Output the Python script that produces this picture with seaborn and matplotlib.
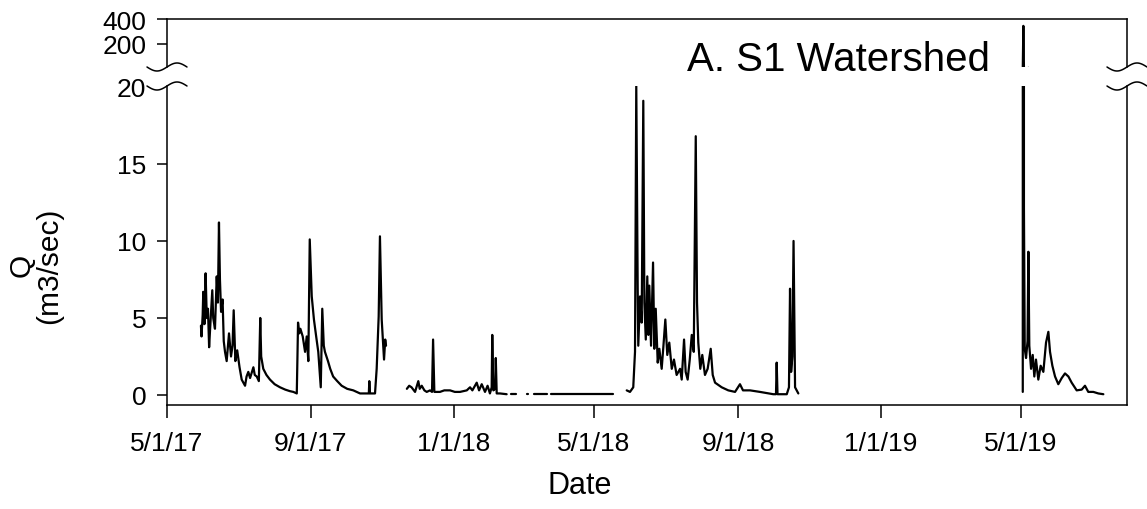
import numpy as np
import pandas as pd
import matplotlib
matplotlib.use("Agg")
import matplotlib.pyplot as plt
from matplotlib.lines import Line2D
import seaborn as sns

# ---------------- data ----------------
seg1_dates = ["2017-05-30 00:00", "2017-05-30 12:00", "2017-05-31 12:00", "2017-06-01 00:00", "2017-06-02 00:00",
              "2017-06-03 00:00", "2017-06-04 00:00", "2017-06-05 00:00", "2017-06-06 00:00", "2017-06-07 00:00",
              "2017-06-08 17:00", "2017-06-09 12:00", "2017-06-11 00:00", "2017-06-12 12:00", "2017-06-13 12:00",
              "2017-06-14 10:00", "2017-06-15 06:00", "2017-06-16 05:00", "2017-06-17 12:00", "2017-06-18 12:00",
              "2017-06-19 14:00", "2017-06-21 00:00", "2017-06-23 00:00", "2017-06-24 17:00", "2017-06-26 00:00",
              "2017-06-27 00:00", "2017-06-28 10:00", "2017-06-30 00:00", "2017-07-02 00:00", "2017-07-03 20:00",
              "2017-07-06 17:00", "2017-07-08 00:00", "2017-07-09 12:00", "2017-07-11 00:00", "2017-07-13 20:00",
              "2017-07-15 00:00", "2017-07-16 17:00", "2017-07-18 12:00", "2017-07-19 17:00", "2017-07-20 12:00",
              "2017-07-22 07:00", "2017-07-25 00:00", "2017-07-28 00:00", "2017-08-01 00:00", "2017-08-05 14:00",
              "2017-08-10 00:00", "2017-08-14 00:00", "2017-08-17 00:00", "2017-08-19 22:00", "2017-08-20 12:00",
              "2017-08-21 00:00", "2017-08-22 00:00", "2017-08-23 00:00", "2017-08-25 00:00", "2017-08-27 00:00",
              "2017-08-28 10:00", "2017-08-29 19:00", "2017-08-31 00:00", "2017-09-01 17:00", "2017-09-03 14:00",
              "2017-09-05 12:00", "2017-09-07 07:00", "2017-09-09 10:00", "2017-09-10 17:00", "2017-09-12 00:00",
              "2017-09-13 00:00", "2017-09-15 14:00", "2017-09-17 12:00", "2017-09-20 00:00", "2017-09-23 12:00",
              "2017-09-27 07:00", "2017-10-02 00:00", "2017-10-07 05:00", "2017-10-13 00:00", "2017-10-20 12:00",
              "2017-10-20 22:00", "2017-10-21 12:00", "2017-10-25 19:00", "2017-10-27 05:00", "2017-10-28 22:00",
              "2017-10-30 00:00", "2017-10-31 12:00", "2017-11-02 12:00", "2017-11-03 12:00", "2017-11-04 05:00"]
seg1_q = [4.5, 3.8, 5.2, 6.7, 4.6, 7.9, 5.0, 5.6, 3.1, 4.5,
          6.8, 5.0, 4.3, 7.7, 6.0, 11.2, 7.5, 5.4, 6.2, 3.5,
          2.8, 2.2, 4.0, 2.5, 3.2, 5.5, 2.2, 2.9, 1.8, 1.0,
          0.6, 1.2, 1.5, 1.1, 1.8, 1.3, 1.2, 0.9, 5.0, 2.5,
          1.7, 1.3, 1.0, 0.7, 0.5, 0.35, 0.25, 0.2, 0.1, 2.5,
          4.7, 4.0, 4.3, 3.8, 2.8, 3.8, 2.2, 10.1, 6.4, 4.9,
          3.8, 2.8, 0.5, 5.6, 3.2, 2.8, 2.2, 1.7, 1.2, 0.9,
          0.6, 0.4, 0.3, 0.1, 0.1, 0.9, 0.1, 0.1, 1.7, 5.1,
          10.3, 4.9, 2.3, 3.6, 3.2]

seg2_dates = ["2017-11-22 00:00", "2017-11-24 00:00", "2017-11-26 00:00", "2017-11-29 00:00", "2017-12-01 19:00",
              "2017-12-03 00:00", "2017-12-04 17:00", "2017-12-07 00:00", "2017-12-09 00:00", "2017-12-11 19:00",
              "2017-12-13 12:00", "2017-12-14 10:00", "2017-12-15 12:00", "2017-12-20 07:00", "2017-12-24 00:00",
              "2017-12-28 22:00", "2018-01-02 00:00", "2018-01-06 10:00", "2018-01-12 05:00", "2018-01-15 00:00",
              "2018-01-17 00:00", "2018-01-20 17:00", "2018-01-22 17:00", "2018-01-25 00:00", "2018-01-27 19:00",
              "2018-01-30 00:00", "2018-02-01 00:00", "2018-02-02 12:00", "2018-02-03 00:00", "2018-02-03 22:00",
              "2018-02-05 12:00", "2018-02-06 00:00", "2018-02-06 19:00", "2018-02-09 14:00", "2018-02-15 07:00"]
seg2_q = [0.4, 0.6, 0.5, 0.2, 0.9, 0.4, 0.6, 0.3, 0.2, 0.3,
          0.2, 3.6, 0.2, 0.2, 0.3, 0.3, 0.2, 0.2, 0.3, 0.5,
          0.3, 0.8, 0.3, 0.7, 0.2, 0.6, 0.1, 0.5, 3.9, 0.3,
          0.4, 2.4, 0.1, 0.1, 0.05]

seg3_dates = ["2018-02-19 00:00", "2018-02-23 00:00"]
seg3_q = [0.05, 0.05]
seg4_dates = ["2018-03-04 12:00", "2018-03-05 12:00"]
seg4_q = [0.05, 0.05]
seg5_dates = ["2018-03-11 00:00", "2018-03-22 00:00"]
seg5_q = [0.05, 0.05]
seg6_dates = ["2018-03-25 00:00", "2018-05-17 00:00"]
seg6_q = [0.05, 0.05]

seg7_dates = ["2018-05-28 22:00", "2018-05-31 17:00", "2018-06-03 12:00", "2018-06-05 00:00", "2018-06-06 02:00",
              "2018-06-07 07:00", "2018-06-07 19:00", "2018-06-09 07:00", "2018-06-10 17:00", "2018-06-12 02:00",
              "2018-06-13 00:00", "2018-06-14 05:00", "2018-06-15 12:00", "2018-06-16 10:00", "2018-06-17 05:00",
              "2018-06-18 17:00", "2018-06-20 10:00", "2018-06-21 12:00", "2018-06-22 17:00", "2018-06-24 10:00",
              "2018-06-25 19:00", "2018-06-27 19:00", "2018-06-29 05:00", "2018-06-30 22:00", "2018-07-02 14:00",
              "2018-07-04 07:00", "2018-07-06 10:00", "2018-07-08 07:00", "2018-07-10 14:00", "2018-07-13 12:00",
              "2018-07-14 22:00", "2018-07-16 22:00", "2018-07-18 07:00", "2018-07-20 00:00", "2018-07-21 19:00",
              "2018-07-23 12:00", "2018-07-25 05:00", "2018-07-26 22:00", "2018-07-28 00:00", "2018-07-29 02:00",
              "2018-07-30 19:00", "2018-08-01 12:00", "2018-08-03 19:00", "2018-08-06 02:00", "2018-08-08 17:00",
              "2018-08-10 10:00", "2018-08-12 10:00", "2018-08-18 02:00", "2018-08-23 17:00", "2018-08-29 12:00",
              "2018-09-02 17:00", "2018-09-05 07:00", "2018-09-11 07:00", "2018-09-19 19:00", "2018-10-01 05:00",
              "2018-10-03 12:00", "2018-10-04 02:00", "2018-10-04 19:00", "2018-10-12 17:00", "2018-10-14 14:00",
              "2018-10-15 12:00", "2018-10-16 10:00", "2018-10-17 12:00", "2018-10-18 12:00", "2018-10-19 19:00",
              "2018-10-22 14:00"]
seg7_q = [0.3, 0.2, 0.5, 2.8, 20.1, 6.9, 3.2, 6.4, 4.7, 19.1,
          6.0, 3.6, 7.7, 3.9, 7.1, 3.2, 8.6, 3.0, 5.6, 2.1,
          3.0, 1.7, 3.1, 4.9, 2.6, 3.4, 1.7, 2.3, 1.3, 1.7,
          1.0, 3.6, 1.5, 1.0, 2.3, 3.9, 2.8, 16.8, 6.0, 3.4,
          1.7, 2.6, 1.3, 1.7, 3.0, 1.3, 0.8, 0.5, 0.3, 0.2,
          0.7, 0.3, 0.3, 0.2, 0.05, 0.05, 2.1, 0.05, 0.05, 0.5,
          6.9, 1.5, 2.5, 10.0, 0.5, 0.1]

seg8_dates = ["2019-05-02 10:00", "2019-05-02 22:00", "2019-05-03 10:00", "2019-05-04 02:00", "2019-05-05 05:00",
              "2019-05-06 12:00", "2019-05-07 05:00", "2019-05-08 00:00", "2019-05-09 12:00", "2019-05-10 22:00",
              "2019-05-12 07:00", "2019-05-13 17:00", "2019-05-15 17:00", "2019-05-17 17:00", "2019-05-20 00:00",
              "2019-05-22 07:00", "2019-05-24 07:00", "2019-05-25 17:00", "2019-05-27 17:00", "2019-05-30 00:00",
              "2019-06-01 19:00", "2019-06-04 17:00", "2019-06-07 12:00", "2019-06-10 10:00", "2019-06-13 05:00",
              "2019-06-17 12:00", "2019-06-21 19:00", "2019-06-24 14:00", "2019-06-27 10:00", "2019-07-01 17:00",
              "2019-07-06 00:00", "2019-07-10 07:00"]
seg8_q = [0.2, 345, 12.1, 3.0, 2.4, 3.5, 9.3, 3.2, 1.7, 2.6,
          1.2, 2.3, 1.0, 1.9, 1.5, 3.4, 4.1, 2.8, 1.9, 1.2,
          0.7, 1.1, 1.4, 1.2, 0.8, 0.3, 0.35, 0.6, 0.2, 0.2,
          0.1, 0.05]

tick_dates = ["2017-05-01", "2017-09-01", "2018-01-01", "2018-05-01", "2018-09-01", "2019-01-01", "2019-05-01"]
tick_labels = ["5/1/17", "9/1/17", "1/1/18", "5/1/18", "9/1/18", "1/1/19", "5/1/19"]
lower_yticks = [0, 5, 10, 15, 20]
upper_yticks = [200, 400]
x_start, x_end = "2017-05-01", "2019-07-30 12:00"
title_text = "A. S1 Watershed"

# ---------------- build table ----------------
segments = [(seg1_dates, seg1_q), (seg2_dates, seg2_q), (seg3_dates, seg3_q), (seg4_dates, seg4_q),
            (seg5_dates, seg5_q), (seg6_dates, seg6_q), (seg7_dates, seg7_q), (seg8_dates, seg8_q)]
frames = []
for i, (d, q) in enumerate(segments):
    frames.append(pd.DataFrame({"Date": pd.to_datetime(d), "Q": q, "seg": i}))
df = pd.concat(frames, ignore_index=True)

upper_lo, upper_hi = 16, 400
lower_lo, lower_hi = -0.65, 20.06
# only segments that actually reach the upper (broken) range are drawn there
seg_max = df.groupby("seg")["Q"].transform("max")
df_top = df[seg_max > 2 * lower_hi]

# ---------------- figure ----------------
sns.set_theme(style="ticks")
plt.rcParams["font.family"] = ["Liberation Sans", "DejaVu Sans"]

W, H = 1147, 510
fig = plt.figure(figsize=(W / 100, H / 100), dpi=100)
L, R = 167 / W, 1127 / W
ax_top = fig.add_axes([L, 1 - 68 / H, R - L, (68 - 20) / H])
ax_bot = fig.add_axes([L, 1 - 406 / H, R - L, (406 - 87) / H])

for ax, data in ((ax_top, df_top), (ax_bot, df)):
    sns.lineplot(data=data, x="Date", y="Q", units="seg", estimator=None, color="black",
                 linewidth=1.6, ax=ax, legend=False, sort=False)
    ax.set_xlim(pd.Timestamp(x_start), pd.Timestamp(x_end))
    for s in ax.spines.values():
        s.set_linewidth(1.1)
        s.set_color("black")
        s.set_visible(True)
    ax.tick_params(axis="y", which="both", direction="out", length=7, width=1.1,
                   labelsize=19, pad=8, colors="black", right=False)

ax_top.set_ylim(upper_lo, upper_hi)
ax_top.set_yticks(upper_yticks)
ax_top.spines["bottom"].set_visible(False)
ax_top.tick_params(axis="x", bottom=False, labelbottom=False)
ax_top.set_xlabel("")
ax_top.set_ylabel("")

ax_bot.set_ylim(lower_lo, lower_hi)
ax_bot.set_yticks(lower_yticks)
ax_bot.spines["top"].set_visible(False)
ax_bot.set_xticks(pd.to_datetime(tick_dates))
ax_bot.set_xticklabels(tick_labels)
ax_bot.tick_params(axis="x", direction="out", length=9, width=1.1, labelsize=19, pad=10, colors="black")
# no straight tick at the break level (20): the break mark replaces it
ax_bot.yaxis.get_major_ticks()[-1].tick1line.set_visible(False)

ax_bot.set_xlabel("Date", fontsize=22, color="black")
ax_bot.xaxis.set_label_coords(0.43, -0.205)
ax_bot.set_ylabel("Q\n(m3/sec)", fontsize=21.5, color="black", multialignment="center", linespacing=1.0)
ax_bot.yaxis.set_label_coords(-0.108, 0.44)

fig.text(687 / W, 1 - 60 / H, title_text, fontsize=29, ha="left", va="center", color="black")

# break marks (tilde shapes) on both side spines
u = np.linspace(-1, 1, 60)
for xc_px in (167, 1127):
    for yc_px in (68, 87):
        xs = (xc_px + 20 * u) / W
        ys = 1 - (yc_px - 4 * np.sin(np.pi * u)) / H
        fig.add_artist(Line2D(xs, ys, transform=fig.transFigure, color="black", linewidth=1.1))

fig.savefig("out.png", dpi=100)
